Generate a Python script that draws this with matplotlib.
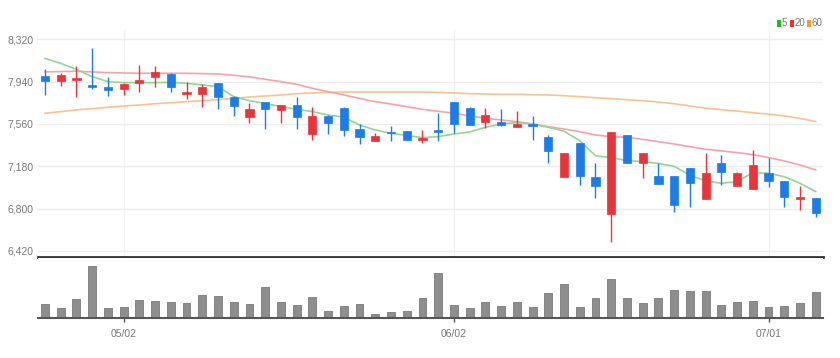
import matplotlib
matplotlib.use('Agg')
import matplotlib.pyplot as plt
from matplotlib.patches import Rectangle

# daily prices
opens = [7990, 7946, 7952, 7913, 7895, 7874, 7925, 7978, 8005, 7826,
         7826, 7925, 7802, 7626, 7757, 7685, 7727, 7470, 7631, 7700,
         7512, 7407, 7491, 7497, 7416, 7506, 7757, 7703, 7578, 7578,
         7536, 7560, 7446, 7087, 7386, 7081, 6752, 7458, 7213, 7096,
         7096, 7168, 6884, 7213, 7003, 6979, 7117, 7051, 6890, 6893]
closes = [7946, 7999, 7970, 7889, 7868, 7922, 7955, 8026, 7895, 7844,
          7895, 7799, 7721, 7697, 7697, 7727, 7620, 7631, 7572, 7509,
          7440, 7452, 7479, 7413, 7437, 7485, 7560, 7551, 7643, 7551,
          7557, 7542, 7320, 7296, 7093, 7003, 7488, 7213, 7296, 7021,
          6836, 7027, 7117, 7129, 7123, 7195, 7051, 6908, 6905, 6764]
highs = [8050, 8020, 8080, 8245, 7984, 7930, 8092, 8080, 8014, 7940,
         7916, 7925, 7811, 7751, 7757, 7727, 7805, 7709, 7643, 7709,
         7557, 7482, 7542, 7497, 7506, 7656, 7757, 7709, 7703, 7691,
         7679, 7632, 7458, 7296, 7386, 7213, 7488, 7458, 7296, 7213,
         7096, 7168, 7297, 7279, 7132, 7327, 7255, 7051, 7003, 6893]
lows = [7820, 7904, 7805, 7871, 7814, 7820, 7850, 7895, 7844, 7784,
        7709, 7697, 7632, 7572, 7512, 7566, 7512, 7416, 7467, 7452,
        7377, 7407, 7407, 7413, 7392, 7407, 7476, 7551, 7527, 7542,
        7536, 7416, 7207, 7087, 7013, 6893, 6504, 7207, 7072, 7021,
        6770, 6818, 6884, 7012, 7003, 6979, 6991, 6818, 6788, 6722]

ma5 = [8149, 8104, 8050, 7985, 7940, 7931, 7931, 7931, 7934, 7925,
       7910, 7895, 7805, 7769, 7745, 7715, 7692, 7671, 7641, 7620,
       7551, 7506, 7476, 7458, 7437, 7446, 7470, 7488, 7530, 7560,
       7572, 7560, 7530, 7495, 7410, 7275, 7258, 7231, 7222, 7205,
       7180, 7100, 7049, 7028, 7043, 7123, 7117, 7087, 7028, 6953]
ma20 = [8027, 8030, 8033, 8027, 8021, 8018, 8015, 8015, 8015, 8015,
        8012, 8009, 7997, 7982, 7961, 7940, 7916, 7880, 7850, 7820,
        7790, 7760, 7739, 7715, 7691, 7674, 7656, 7632, 7611, 7596,
        7581, 7560, 7536, 7515, 7491, 7461, 7446, 7440, 7422, 7401,
        7380, 7357, 7333, 7318, 7303, 7285, 7258, 7228, 7192, 7147]
ma60 = [7656, 7671, 7686, 7698, 7710, 7721, 7730, 7742, 7751, 7760,
        7769, 7778, 7790, 7802, 7811, 7820, 7832, 7838, 7844, 7847,
        7847, 7847, 7847, 7847, 7847, 7844, 7838, 7832, 7829, 7826,
        7826, 7823, 7820, 7814, 7805, 7796, 7787, 7778, 7769, 7757,
        7742, 7721, 7703, 7688, 7676, 7661, 7649, 7632, 7611, 7581]

volume = [42, 32, 57, 160, 30, 35, 55, 52, 48, 46,
          71, 67, 48, 42, 96, 48, 41, 64, 21, 37,
          43, 13, 18, 23, 60, 138, 41, 30, 50, 38,
          50, 35, 77, 104, 35, 62, 120, 60, 46, 60,
          86, 82, 82, 41, 48, 52, 35, 37, 46, 79]

tick_pos = [5, 26, 46]
tick_labels = ['05/02', '06/02', '07/01']
price_ticks = [6420, 6800, 7180, 7560, 7940, 8320]

plt.rcParams['font.family'] = ['Liberation Sans Narrow', 'Liberation Sans', 'DejaVu Sans']

up_col = '#e8343a'
down_col = '#1c7ce8'
txt_col = '#777777'

fig = plt.figure(figsize=(8.4, 3.58), dpi=100)
ax = fig.add_axes([0.0452, 0.2821, 0.9345, 0.634])
axv = fig.add_axes([0.0452, 0.1117, 0.9345, 0.1676], sharex=ax)

n = len(closes)
xs = list(range(n))

# moving averages
ax.plot(xs, ma60, color='#f9c28e', lw=1.2, zorder=2)
ax.plot(xs, ma20, color='#f5a3ab', lw=1.2, zorder=2)
ax.plot(xs, ma5, color='#93d693', lw=1.2, zorder=2)

# candles
for i in xs:
    o, c, h, l = opens[i], closes[i], highs[i], lows[i]
    col = up_col if c >= o else down_col
    ax.vlines(i, l, h, color=col, lw=1.0, zorder=3)
    body = max(abs(c - o), 14)
    ax.bar(i, body, bottom=min(o, c) - (body - abs(c - o)) / 2, width=0.52,
           color=col, edgecolor=col, lw=0.5, zorder=4)

ax.set_xlim(-0.445, 49.46)
ax.set_ylim(6366, 8403)
ax.set_yticks(price_ticks)
ax.set_yticklabels(['{:,}'.format(v) for v in price_ticks])
ax.yaxis.grid(True, color='#ececec', lw=1.0)
ax.set_axisbelow(True)
for p in tick_pos:
    ax.axvline(p, color='#f0f0f0', lw=1.0, zorder=0)
ax.tick_params(axis='y', length=0, labelsize=7.5, colors=txt_col, pad=3)
ax.tick_params(axis='x', length=0, labelbottom=False)
for s in ['top', 'right', 'left']:
    ax.spines[s].set_visible(False)
ax.spines['bottom'].set_color('#333333')
ax.spines['bottom'].set_linewidth(2.0)

# volume
axv.bar(xs, volume, width=0.5, color='#8e8e8e', edgecolor='#7a7a7a', lw=0.6)
axv.set_ylim(0, 184)
axv.set_yticks([])
axv.set_xticks(tick_pos)
axv.set_xticklabels(tick_labels)
axv.tick_params(axis='x', length=3, width=1, color='#555555', labelsize=7.5,
                labelcolor=txt_col, pad=5)
for s in ['top', 'right', 'left']:
    axv.spines[s].set_visible(False)
axv.spines['bottom'].set_color('#555555')
axv.spines['bottom'].set_linewidth(1.5)

# legend (pixel positions of square and label)
W, H = 840.0, 358.0
leg_items = [('5', '#22bb22', 777, 782), ('20', '#ee3333', 790, 795), ('60', '#f39c33', 807, 812)]
for lab, col, sx, tx in leg_items:
    fig.patches.append(Rectangle((sx / W, 1 - 27 / H), 3.5 / W, 6.5 / H,
                                 transform=fig.transFigure, color=col, lw=0))
    fig.text(tx / W, 1 - 23.5 / H, lab, color=txt_col, fontsize=7, va='center', ha='left')

fig.savefig('out.png', dpi=100, facecolor='white')
